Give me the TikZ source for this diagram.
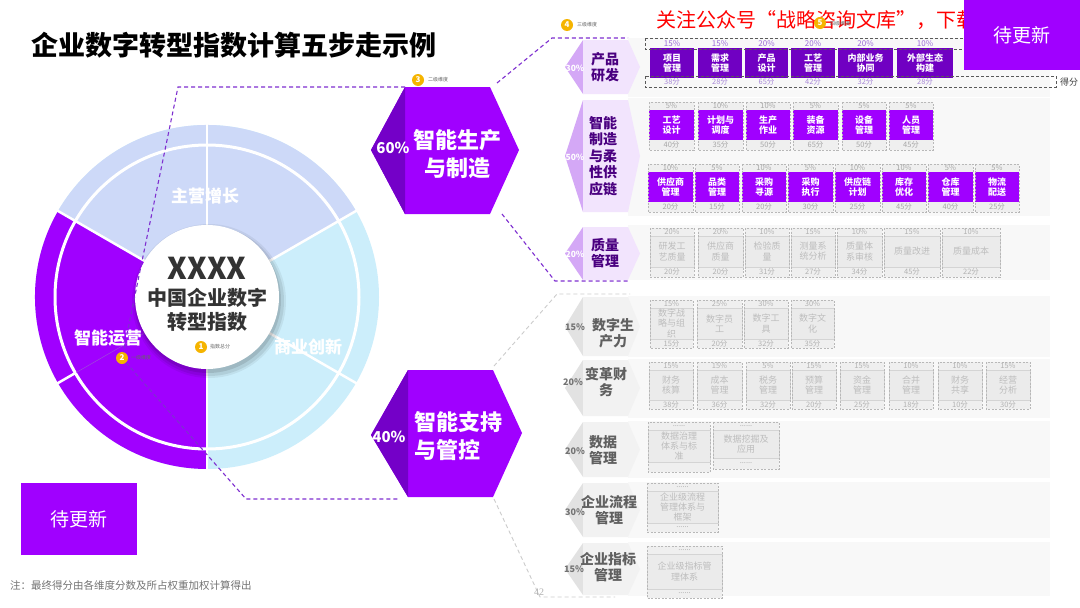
\documentclass[tikz,border=0pt]{standalone}
\usepackage{fontspec}
\setmainfont{Noto Sans CJK SC}
\newfontfamily\serifx{Liberation Serif}
\usetikzlibrary{calc}
\definecolor{pp}{HTML}{A000FF}
\definecolor{ppd}{HTML}{7400C8}
\definecolor{ppbox}{HTML}{7000C2}
\definecolor{peri}{HTML}{CDD9F8}
\definecolor{cyanl}{HTML}{CCEEFB}
\definecolor{lav}{HTML}{D4A8F6}
\definecolor{lavl}{HTML}{F2E4FD}
\definecolor{ptext}{HTML}{4A0080}
\definecolor{orng}{HTML}{F5B400}
\definecolor{gbg}{HTML}{F8F8F8}
\definecolor{gshd}{HTML}{E2E2E2}
\definecolor{gshl}{HTML}{F2F2F2}
\definecolor{gstrip}{HTML}{EFEFEF}
\definecolor{gmainc}{HTML}{EBEBEB}
\definecolor{dashp}{HTML}{7E2FD0}
\definecolor{pct1c}{HTML}{9A6AD6}
\definecolor{scr1c}{HTML}{A98AD8}
\definecolor{gtxt}{HTML}{BDBDBD}
\definecolor{grlabc}{HTML}{606060}
\tikzset{
  pdash/.style={draw=dashp, line width=1.1pt, dash pattern=on 4pt off 3pt},
  gdl/.style={draw=black!20, line width=0.9pt, dash pattern=on 4pt off 3pt},
  boxlbl/.style={text=white, font=\fontsize{9}{10.5}\selectfont\bfseries, align=center, inner sep=0},
  glbl/.style={text=gtxt, font=\fontsize{9}{10.2}\selectfont, align=center, inner sep=0},
  pct1/.style={text=pct1c, font=\fontsize{8}{9}\selectfont, inner sep=0},
  scr1/.style={text=scr1c, font=\fontsize{7.5}{8}\selectfont, inner sep=0},
  gpct/.style={text=black!30, font=\fontsize{7.5}{8}\selectfont, inner sep=0},
  gpct2/.style={text=black!35, font=\fontsize{7.5}{8}\selectfont, inner sep=0},
  gsolid/.style={draw=black!17, line width=0.6pt},
  gdb/.style={draw=black!28, line width=0.6pt, dash pattern=on 2pt off 1.5pt},
  rlab/.style={text=ptext, font=\fontsize{14}{16}\selectfont\bfseries, align=center, inner sep=0},
  grlab/.style={text=grlabc, font=\fontsize{14}{16}\selectfont\bfseries, align=center, inner sep=0},
  rpct/.style={text=white, font=\fontsize{8.5}{8.5}\selectfont\bfseries, inner sep=0},
  grpct/.style={text=black!55, font=\fontsize{9}{9}\selectfont\bfseries, inner sep=0},
  mk/.style={circle, fill=orng, text=white, font=\fontsize{8}{8}\selectfont\bfseries, inner sep=0, minimum size=12pt},
  tiny/.style={text=black!60, font=\fontsize{5}{5}\selectfont, anchor=west, inner sep=0},
  donutlbl/.style={text=white, font=\fontsize{17}{17}\selectfont\bfseries, inner sep=0},
  hexlbl/.style={text=white, font=\fontsize{22}{28}\selectfont\bfseries, inner sep=0},
  hexpct/.style={text=white, font=\fontsize{15}{15}\selectfont\bfseries, inner sep=0},
  updbox/.style={fill=pp, text=white, font=\fontsize{19}{19}\selectfont, minimum width=116pt, inner sep=0},
}
\newcommand{\rowshp}[4]{% ytop ybot dark light
  \fill[#3] (565,{(#1+#2)/2}) -- (583,#1) -- (583,#2) -- cycle;
  \fill[#4] (583,#1) -- (628,#1) -- (640,{(#1+#2)/2}) -- (628,#2) -- (583,#2) -- cycle;
}
\newcommand{\qbx}[6]{% name x0 x1 pct label score
  \fill[ppbox] (#2,48) rectangle (#3,78);
  \node[pct1] (#1p) at ({(#2+#3)/2},43.5) {#4};
  \node[boxlbl] (#1) at ({(#2+#3)/2},63) {#5};
  \node[scr1] (#1s) at ({(#2+#3)/2},82) {#6};
}
\newcommand{\pbx}[7]{% name x0 x1 y0 pct label score
  \fill[gstrip] (#2,#4) rectangle (#3,#4+48);
  \fill[pp] (#2,#4+8) rectangle (#3,#4+38);
  \draw[gdb] (#2,#4) rectangle (#3,#4+48);
  \node[gpct2] (#1p) at ({(#2+#3)/2},#4+4) {#5};
  \node[boxlbl] (#1) at ({(#2+#3)/2},#4+23) {#6};
  \node[gpct2] (#1s) at ({(#2+#3)/2},#4+43) {#7};
}
\newcommand{\gbx}[9]{% name x0 x1 y0 y2 y3 pct label score
  \fill[gstrip] (#2,#4) rectangle (#3,#6);
  \fill[gmainc] (#2,#4+8) rectangle (#3,#5);
  \draw[gsolid] (#2,#4+8) rectangle (#3,#5);
  \draw[gdb] (#2,#4) rectangle (#3,#6);
  \node[gpct] (#1p) at ({(#2+#3)/2},#4+4) {#7};
  \node[glbl] (#1) at ({(#2+#3)/2},{(#4+8+#5)/2}) {#8};
  \node[gpct] (#1s) at ({(#2+#3)/2},{(#5+#6)/2}) {#9};
}
\begin{document}
\begin{tikzpicture}[x=1pt,y=-1pt]
\useasboundingbox (0,0) rectangle (1080,608);
\fill[white] (0,0) rectangle (1080,608);

% title
\node[anchor=west, inner sep=0, font=\fontsize{27}{27}\selectfont\bfseries] (title) at (31,45) {企业数字转型指数计算五步走示例};

% ---------- donut ----------
\coordinate (C) at (207,297);
\fill[cyanl] (C) circle (172);
\fill[peri] (C) -- ($(C)+(-30:172)$) arc[start angle=-30, end angle=-150, radius=172] -- cycle;
\fill[pp] (C) -- ($(C)+(-150:172)$) arc[start angle=-150, end angle=-270, radius=172] -- cycle;
\draw[white, line width=3pt] (C) circle (152);
\foreach \a in {30,90,150,270,330}
  \draw[white, line width=2.5pt] ($(C)+(-\a:70)$) -- ($(C)+(-\a:175)$);
\draw[white, line width=2.5pt] ($(C)+(-210:151)$) -- ($(C)+(-210:175)$);
\draw[ppd!70, line width=0.5pt] ($(C)+(-210:72)$) -- ($(C)+(-210:151)$);
\fill[black, opacity=0.06] ($(C)+(2,4)$) circle (77);
\fill[black, opacity=0.08] ($(C)+(2,4)$) circle (75);
\fill[black, opacity=0.10] ($(C)+(1,3)$) circle (73);
\fill[white] (C) circle (72);
\node[donutlbl] (dz) at (205,196) {主营增长};
\node[donutlbl] (ds) at (308,347) {商业创新};
\node[donutlbl] (dy) at (108,338) {智能运营};
\node[inner sep=0, text=black!80, font=\fontsize{30}{30}\selectfont\bfseries] (cx) at (207,268) {XXXX};
\node[inner sep=0, text=black!80, font=\fontsize{20}{24}\selectfont\bfseries, align=center] (ct) at (207,310) {中国企业数字\\转型指数};
\node[mk] (n1) at (201,347) {1};
\node[tiny] (n1t) at (210,347) {指数总分};
\node[mk] (n2) at (122,358) {2};
\node[tiny] (n2t) at (131,358) {一级维度};

% ---------- hexagons ----------
\coordinate (h1l) at (371,150); \coordinate (h1tl) at (405,87); \coordinate (h1tr) at (490,87);
\coordinate (h1r) at (519,150); \coordinate (h1br) at (490,214); \coordinate (h1bl) at (405,214);
\fill[pp] (h1l) -- (h1tl) -- (h1tr) -- (h1r) -- (h1br) -- (h1bl) -- cycle;
\fill[ppd] (h1l) -- (h1tl) -- (h1bl) -- cycle;
\node[hexpct] (h1p) at (393,148) {60\%};
\node[hexlbl, align=center] (h1t) at (457,154) {智能生产\\与制造};
\coordinate (h2l) at (371,435); \coordinate (h2tl) at (408,370); \coordinate (h2tr) at (493,370);
\coordinate (h2r) at (522,433); \coordinate (h2br) at (493,497); \coordinate (h2bl) at (408,497);
\fill[pp] (h2l) -- (h2tl) -- (h2tr) -- (h2r) -- (h2br) -- (h2bl) -- cycle;
\fill[ppd] (h2l) -- (h2tl) -- (h2bl) -- cycle;
\node[hexpct] (h2p) at (389,437) {40\%};
\node[hexlbl, align=left, anchor=west] (h2t) at (414,436) {智能支持\\与管控};
\node[mk] (n3) at (418,80) {3};
\node[tiny] (n3t) at (428,80) {二级维度};

% ---------- connectors ----------
\coordinate (t1) at (178,87);
\coordinate (t2) at (246,499); \coordinate (t3) at (400,499);
\draw[pdash] (h1tl) -- (t1) -- (n2);
\draw[pdash] (n2) -- (t2) -- (t3);
\coordinate (u0) at (497,83); \coordinate (u1) at (552,38); \coordinate (u2) at (628,38);
\draw[pdash] (u0) -- (u1) -- (u2);
\coordinate (l0) at (502,214); \coordinate (l1) at (555,281); \coordinate (l2) at (628,281);
\draw[pdash] (l0) -- (l1) -- (l2);
\coordinate (g0) at (494,366); \coordinate (g1) at (557,294); \coordinate (g2) at (630,294);
\draw[gdl] (g0) -- (g1) -- (g2);
\coordinate (k0) at (494,499); \coordinate (k1) at (540,597); \coordinate (k2) at (615,597);
\draw[gdl] (k0) -- (k1) -- (k2);

% ---------- right panel bands ----------
\fill[gbg] (628,38) rectangle (1050,97);
\fill[gbg] (628,98) rectangle (1050,216);
\fill[gbg] (628,225) rectangle (1050,280);
\fill[gbg] (628,296) rectangle (1050,357);
\fill[gbg] (628,359) rectangle (1050,418);
\fill[gbg] (628,421) rectangle (1050,478);
\fill[gbg] (628,482) rectangle (1050,538);
\fill[gbg] (628,542) rectangle (1050,596);

\rowshp{40}{94}{lav}{lavl}
\rowshp{100}{212}{lav}{lavl}
\rowshp{227}{280}{lav}{lavl}
\rowshp{297}{356}{gshd}{gshl}
\rowshp{360}{416}{gshd}{gshl}
\rowshp{422}{477}{gshd}{gshl}
\rowshp{483}{537}{gshd}{gshl}
\rowshp{543}{595}{gshd}{gshl}

\node[rlab] (r1) at (605,67) {产品\\研发};
\node[rlab, font=\fontsize{14}{16.5}\selectfont\bfseries] (r2) at (603,156) {智能\\制造\\与柔\\性供\\应链};
\node[rlab] (r3) at (605,253) {质量\\管理};
\node[grlab] (r4) at (613,333) {数字生\\产力};
\node[grlab] (r5) at (606,382) {变革财\\务};
\node[grlab] (r6) at (603,450) {数据\\管理};
\node[grlab] (r7) at (609,510) {企业流程\\管理};
\node[grlab] (r8) at (608,567) {企业指标\\管理};
\node[rpct] (rp1) at (575,68) {30\%};
\node[rpct] (rp2) at (575,157) {50\%};
\node[rpct] (rp3) at (575,254) {20\%};
\node[grpct] (rp4) at (575,327) {15\%};
\node[grpct] (rp5) at (573,382) {20\%};
\node[grpct] (rp6) at (575,451) {20\%};
\node[grpct] (rp7) at (575,512) {30\%};
\node[grpct] (rp8) at (574,569) {15\%};

% ---------- row 1 ----------
\qbx{b11}{650}{694}{15\%}{项目\\管理}{38分}
\qbx{b12}{698}{742}{15\%}{需求\\管理}{28分}
\qbx{b13}{745}{788}{20\%}{产品\\设计}{65分}
\qbx{b14}{791}{835}{20\%}{工艺\\管理}{42分}
\qbx{b15}{838}{893}{20\%}{内部业务\\协同}{32分}
\qbx{b16}{897}{953}{10\%}{外部生态\\构建}{28分}
\draw[draw=black!65, line width=0.9pt, dash pattern=on 3pt off 2pt] (645,38) rectangle (1058,49);
\draw[draw=black!65, line width=0.9pt, dash pattern=on 3pt off 2pt] (645,76) rectangle (1056,87);
\node[inner sep=0, text=black!75, font=\fontsize{9}{9}\selectfont] (df) at (1069,82) {得分};

% ---------- row 2 ----------
\pbx{b21}{649}{694}{102}{5\%}{工艺\\设计}{40分}
\pbx{b22}{698}{743}{102}{10\%}{计划与\\调度}{35分}
\pbx{b23}{746}{790}{102}{10\%}{生产\\作业}{50分}
\pbx{b24}{793}{838}{102}{5\%}{装备\\资源}{65分}
\pbx{b25}{842}{886}{102}{5\%}{设备\\管理}{50分}
\pbx{b26}{889}{933}{102}{5\%}{人员\\管理}{45分}
\pbx{b31}{648}{693}{164}{10\%}{供应商\\管理}{20分}
\pbx{b32}{695}{739}{164}{5\%}{品类\\管理}{15分}
\pbx{b33}{742}{786}{164}{10\%}{采购\\寻源}{20分}
\pbx{b34}{788}{833}{164}{5\%}{采购\\执行}{30分}
\pbx{b35}{835}{880}{164}{10\%}{供应链\\计划}{25分}
\pbx{b36}{882}{926}{164}{10\%}{库存\\优化}{45分}
\pbx{b37}{928}{973}{164}{5\%}{仓库\\管理}{40分}
\pbx{b38}{975}{1019}{164}{5\%}{物流\\配送}{25分}

% ---------- row 3 ----------
\gbx{c1}{650}{694}{228}{267}{277}{20\%}{研发工\\艺质量}{20分}
\gbx{c2}{698}{743}{228}{267}{277}{20\%}{供应商\\质量}{20分}
\gbx{c3}{745}{789}{228}{267}{277}{10\%}{检验质\\量}{31分}
\gbx{c4}{791}{835}{228}{267}{277}{15\%}{测量系\\统分析}{27分}
\gbx{c5}{837}{882}{228}{267}{277}{10\%}{质量体\\系审核}{34分}
\gbx{c6}{884}{940}{228}{267}{277}{15\%}{质量改进}{45分}
\gbx{c7}{942}{1000}{228}{267}{277}{10\%}{质量成本}{22分}

% ---------- row 4 ----------
\gbx{d1}{650}{693}{300}{339}{348}{15\%}{数字战\\略与组\\织}{15分}
\gbx{d2}{697}{742}{300}{339}{348}{25\%}{数字员\\工}{20分}
\gbx{d3}{744}{788}{300}{339}{348}{30\%}{数字工\\具}{32分}
\gbx{d4}{791}{834}{300}{339}{348}{30\%}{数字文\\化}{35分}

% ---------- row 5 ----------
\gbx{e1}{649}{693}{362}{400}{409}{15\%}{财务\\核算}{38分}
\gbx{e2}{697}{742}{362}{400}{409}{15\%}{成本\\管理}{36分}
\gbx{e3}{746}{790}{362}{400}{409}{5\%}{税务\\管理}{32分}
\gbx{e4}{792}{836}{362}{400}{409}{15\%}{预算\\管理}{20分}
\gbx{e5}{840}{884}{362}{400}{409}{15\%}{资金\\管理}{25分}
\gbx{e6}{889}{933}{362}{400}{409}{10\%}{合并\\管理}{18分}
\gbx{e7}{938}{982}{362}{400}{409}{10\%}{财务\\共享}{10分}
\gbx{e8}{986}{1030}{362}{400}{409}{15\%}{经营\\分析}{30分}

% ---------- rows 6-8 ----------
\gbx{f1}{648}{710}{422}{462}{472}{......}{数据治理\\体系与标\\准}{}
\gbx{f2}{713}{779}{422}{458}{469}{......}{数据挖掘及\\应用}{......}
\gbx{g1}{647}{718}{483}{523}{532}{......}{企业级流程\\管理体系与\\框架}{......}
\gbx{i1}{647}{722}{546}{589}{598}{......}{企业级指标管\\理体系}{......}

% ---------- top texts ----------
\node[mk] (n4) at (567,25) {4};
\node[tiny] (n4t) at (577,25) {三级维度};
\node[anchor=west, inner sep=0, text=red, font=\fontsize{20}{20}\selectfont] (ad) at (656,20) {关注公众号“战略咨询文库”，下载};
\node[mk] (n5) at (820,23) {5};
\node[tiny] (n5t) at (830,24) {四级维度};
\node[updbox, minimum height=70pt] (upd1) at (1022,35) {待更新};
\node[updbox, minimum height=72pt] (upd2) at (79,519) {待更新};

% ---------- footer ----------
\node[anchor=west, inner sep=0, text=black!55, font=\fontsize{10.5}{10.5}\selectfont] (fn) at (10,585) {注：最终得分由各维度分数及所占权重加权计算得出};
\node[inner sep=0, text=black!30, font=\serifx\fontsize{10}{10}\selectfont] (pg) at (539,592) {42};
\end{tikzpicture}
\end{document}
